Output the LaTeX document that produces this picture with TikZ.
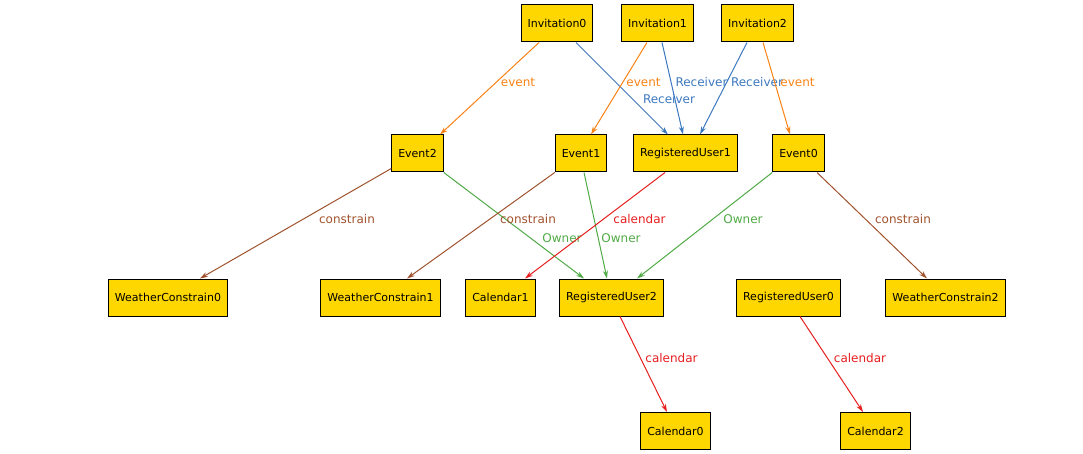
\documentclass[tikz,border=0pt]{standalone}
\usepackage{fontspec}
\setmainfont{DejaVu Sans}
\usetikzlibrary{arrows.meta}
\definecolor{cgold}{RGB}{255,215,0}
\definecolor{corange}{RGB}{250,130,20}
\definecolor{cblue}{RGB}{60,120,190}
\definecolor{cgreen}{RGB}{80,170,70}
\definecolor{cbrown}{RGB}{160,82,45}
\definecolor{cred}{RGB}{230,30,30}
\tikzset{
  box/.style={draw=black, fill=cgold, line width=1pt, minimum height=37pt, inner xsep=6.5pt,
    font=\fontsize{11}{13}\selectfont},
  edge/.style={line width=1pt, -{Stealth[length=8pt,width=5pt]}},
  lbl/.style={font=\fontsize{12}{14}\selectfont, inner sep=0pt},
}
\begin{document}
\begin{tikzpicture}[x=1pt,y=-1pt]
\useasboundingbox (0,0) rectangle (1083,454);
% row 1
\node[box] (inv0) at (557,23.5) {Invitation0};
\node[box] (inv1) at (657.5,23.5) {Invitation1};
\node[box] (inv2) at (757.5,23.5) {Invitation2};
% row 2
\node[box] (ev2) at (417.5,153.5) {Event2};
\node[box] (ev1) at (581,153.5) {Event1};
\node[box] (ru1) at (685.5,153.5) {RegisteredUser1};
\node[box] (ev0) at (798.5,153.5) {Event0};
% row 3
\node[box] (wc0) at (168,297.5) {WeatherConstrain0};
\node[box] (wc1) at (380.5,297.5) {WeatherConstrain1};
\node[box] (cal1) at (500.5,297.5) {Calendar1};
\node[box] (ru2) at (611.5,297.5) {RegisteredUser2};
\node[box] (ru0) at (788.5,297.5) {RegisteredUser0};
\node[box] (wc2) at (945.5,297.5) {WeatherConstrain2};
% row 4
\node[box] (cal0) at (675.5,431) {Calendar0};
\node[box] (cal2) at (875.5,431) {Calendar2};
% edges
\draw[edge,corange] ([xshift=-18pt]inv0.south) -- ([xshift=22.5pt]ev2.north)
  node[lbl,text=corange] at (518,82) {event};
\draw[edge,cblue] ([xshift=19pt]inv0.south) -- ([xshift=-17.5pt]ru1.north)
  node[lbl,text=cblue] at (669,99) {Receiver};
\draw[edge,corange] ([xshift=-10.5pt]inv1.south) -- ([xshift=10pt]ev1.north)
  node[lbl,text=corange] at (643.5,82) {event};
\draw[edge,cblue] ([xshift=4.5pt]inv1.south) -- ([xshift=-2.5pt]ru1.north)
  node[lbl,text=cblue] at (701.5,82) {Receiver};
\draw[edge,cblue] ([xshift=-10.5pt]inv2.south) -- ([xshift=14.5pt]ru1.north)
  node[lbl,text=cblue] at (757,82) {Receiver};
\draw[edge,corange] ([xshift=5.5pt]inv2.south) -- ([xshift=-8.5pt]ev0.north)
  node[lbl,text=corange] at (797.5,82) {event};
\draw[edge,cbrown] ([yshift=4pt]ev2.south west) -- ([xshift=32pt]wc0.north)
  node[lbl,text=cbrown] at (347,219) {constrain};
\draw[edge,cgreen] (ev2.south east) -- ([xshift=-27.5pt]ru2.north)
  node[lbl,text=cgreen] at (562,238) {Owner};
\draw[edge,cbrown] (ev1.south west) -- ([xshift=26.5pt]wc1.north)
  node[lbl,text=cbrown] at (528,219) {constrain};
\draw[edge,cgreen] ([xshift=3pt]ev1.south) -- ([xshift=-4.5pt]ru2.north)
  node[lbl,text=cgreen] at (621,238) {Owner};
\draw[edge,cred] ([xshift=-20.5pt]ru1.south) -- ([xshift=24.5pt]cal1.north)
  node[lbl,text=cred] at (639.5,219) {calendar};
\draw[edge,cgreen] (ev0.south west) -- ([xshift=25.5pt]ru2.north)
  node[lbl,text=cgreen] at (743,219) {Owner};
\draw[edge,cbrown] ([xshift=18.5pt]ev0.south) -- ([xshift=-18.5pt]wc2.north)
  node[lbl,text=cbrown] at (903,219) {constrain};
\draw[edge,cred] ([xshift=8.5pt]ru2.south) -- ([xshift=-8.5pt]cal0.north)
  node[lbl,text=cred] at (671.5,358) {calendar};
\draw[edge,cred] ([xshift=11.5pt]ru0.south) -- ([xshift=-12.5pt]cal2.north)
  node[lbl,text=cred] at (860,358) {calendar};
\end{tikzpicture}
\end{document}
